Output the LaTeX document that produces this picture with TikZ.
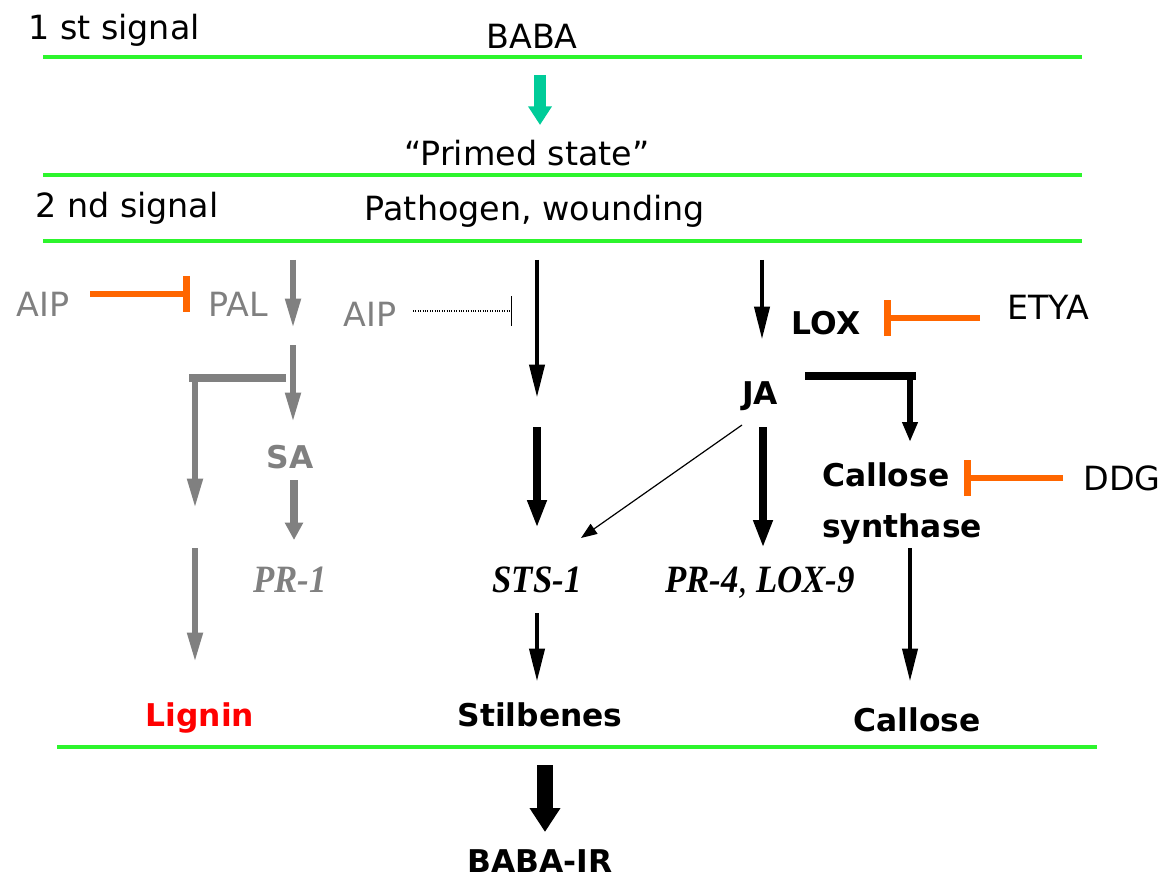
\documentclass[tikz,border=0pt]{standalone}
\usepackage{fontspec}
\setmainfont{DejaVu Sans}
\newfontfamily\tnr{Liberation Serif}
\usetikzlibrary{arrows.meta}
\definecolor{lgreen}{RGB}{45,245,45}
\definecolor{tealc}{HTML}{00CC99}
\definecolor{orng}{HTML}{FF6600}
\definecolor{gry}{HTML}{808080}
\begin{document}
\begin{tikzpicture}[x=0.75pt,y=-0.75pt,
  txt/.style={font=\fontsize{25}{29}\selectfont, inner sep=0pt, anchor=base},
  btxt/.style={font=\fontsize{23.5}{28}\selectfont\bfseries, inner sep=0pt, anchor=base},
  gene/.style={font=\fontsize{29}{33}\selectfont\tnr\bfseries\itshape, inner sep=0pt, anchor=base},
  sepline/.style={draw=lgreen, line width=2.4pt},
  inhib/.style={draw=orng, line width=4.5pt, -{Bar[width=27pt,line width=5.5pt]}},
  garr/.style={draw=gry, line width=4.2pt, -{Triangle[width=11pt,length=22pt]}},
  garrthick/.style={draw=gry, line width=6.5pt, -{Triangle[width=13pt,length=13pt]}},
  barr/.style={draw=black, line width=3.6pt, -{Triangle[width=11pt,length=25pt]}},
  barrthick/.style={draw=black, line width=5.4pt, -{Triangle[width=13.5pt,length=21pt]}},
]
\useasboundingbox (0,0) rectangle (1169,880);

% separator lines
\coordinate (g1a) at (43,57);  \coordinate (g1b) at (1082,57);
\coordinate (g2a) at (43,175); \coordinate (g2b) at (1082,175);
\coordinate (g3a) at (43,241); \coordinate (g3b) at (1082,241);
\coordinate (g4a) at (57,747); \coordinate (g4b) at (1097,747);
\draw[sepline] (g1a) -- (g1b);
\draw[sepline] (g2a) -- (g2b);
\draw[sepline] (g3a) -- (g3b);
\draw[sepline] (g4a) -- (g4b);

% texts
\node[txt] (sig1) at (114,40) {1 st signal};
\node[txt] (baba) at (532,49) {BABA};
\node[txt] (primed) at (527,166) {“Primed state”};
\node[txt] (sig2) at (127,218) {2 nd signal};
\node[txt] (path) at (535,221) {Pathogen, wounding};
\node[txt, text=gry] (aip1) at (43,316) {AIP};
\node[txt, text=gry] (pal) at (238,316) {PAL};
\node[txt, text=gry] (aip2) at (370,326) {AIP};
\node[btxt] (lox) at (826,334) {LOX};
\node[txt] (etya) at (1048,320) {ETYA};
\node[btxt] (ja) at (760,404) {JA};
\node[btxt, text=gry] (sa) at (290,468) {SA};
\node[btxt, anchor=base west] (cs1) at (822,486) {Callose};
\node[btxt, anchor=base west] (cs2) at (822,537) {synthase};
\node[txt] (ddg) at (1122,490) {DDG};
\node[gene, text=gry] (pr1) at (290,592) {\scalebox{0.9}[1]{PR-1}};
\node[gene] (sts) at (537,592) {\scalebox{0.9}[1]{STS-1}};
\node[gene] (pr4) at (760,592) {\scalebox{0.9}[1]{PR-4{\mdseries,} LOX-9}};
\node[btxt, text=red] (lignin) at (200,726) {Lignin};
\node[btxt] (stil) at (540,726) {Stilbenes};
\node[btxt] (callose) at (917,731) {Callose};
\node[btxt] (babair) at (540,872) {BABA-IR};

% teal arrow BABA -> primed
\coordinate (t1) at (540,75); \coordinate (t2) at (540,125);
\draw[draw=tealc, line width=8.5pt, -{Triangle[width=17pt,length=14pt]}] (t1) -- (t2);

% gray branch
\coordinate (p1) at (293,260); \coordinate (p2) at (293,328);
\draw[garr] (p1) -- (p2);
\coordinate (p3) at (293,345); \coordinate (p4) at (293,422);
\draw[garr] (p3) -- (p4);
\coordinate (b1) at (286,378); \coordinate (b2) at (189,378); \coordinate (b3) at (195,508);
\draw[draw=gry, line width=6pt] (b1) -- (b2);
\draw[garr] (195,375) -- (b3);
\coordinate (s1) at (294,480); \coordinate (s2) at (294,540);
\draw[garrthick] (s1) -- (s2);
\coordinate (l1) at (195,548); \coordinate (l2) at (195,662);
\draw[garr] (l1) -- (l2);

% inhibitors
\coordinate (i1a) at (90,294); \coordinate (i1b) at (190,294);
\draw[inhib] (i1a) -- (i1b);
\coordinate (i2a) at (413,311); \coordinate (i2b) at (512,311);
\draw[densely dotted, line width=0.8pt, -{Bar[width=22pt,line width=0.9pt]}] (i2a) -- (i2b);
\coordinate (i3a) at (980,318); \coordinate (i3b) at (884,318);
\draw[inhib] (i3a) -- (i3b);
\coordinate (i4a) at (1063,478); \coordinate (i4b) at (964,478);
\draw[inhib] (i4a) -- (i4b);

% middle column
\coordinate (m1) at (537,260); \coordinate (m2) at (537,398);
\draw[barr] (m1) -- (m2);
\coordinate (m3) at (537,427); \coordinate (m4) at (537,528);
\draw[barrthick] (m3) -- (m4);
\coordinate (m5) at (537,613); \coordinate (m6) at (537,682);
\draw[barr] (m5) -- (m6);

% right columns
\coordinate (r1) at (762,260); \coordinate (r2) at (762,340);
\draw[barr] (r1) -- (r2);
\coordinate (r3) at (763,427); \coordinate (r4) at (763,548);
\draw[barrthick] (r3) -- (r4);
\coordinate (ja1) at (742,425); \coordinate (sts1) at (581,538);
\draw[line width=0.9pt, -{Triangle[width=9pt,length=12pt]}] (ja1) -- (sts1);
\coordinate (h1) at (805,376); \coordinate (h2) at (916,376); \coordinate (h3) at (910,442);
\draw[line width=5.5pt] (h1) -- (h2);
\draw[draw=black, line width=3.8pt, -{Triangle[width=11pt,length=15pt]}] (910,374) -- (h3);
\coordinate (c1) at (910,548); \coordinate (c2) at (910,682);
\draw[barr] (c1) -- (c2);

% final big arrow
\coordinate (f1) at (545,765); \coordinate (f2) at (545,832);
\draw[draw=black, line width=12pt, -{Triangle[width=22pt,length=18pt]}] (f1) -- (f2);
\end{tikzpicture}
\end{document}
